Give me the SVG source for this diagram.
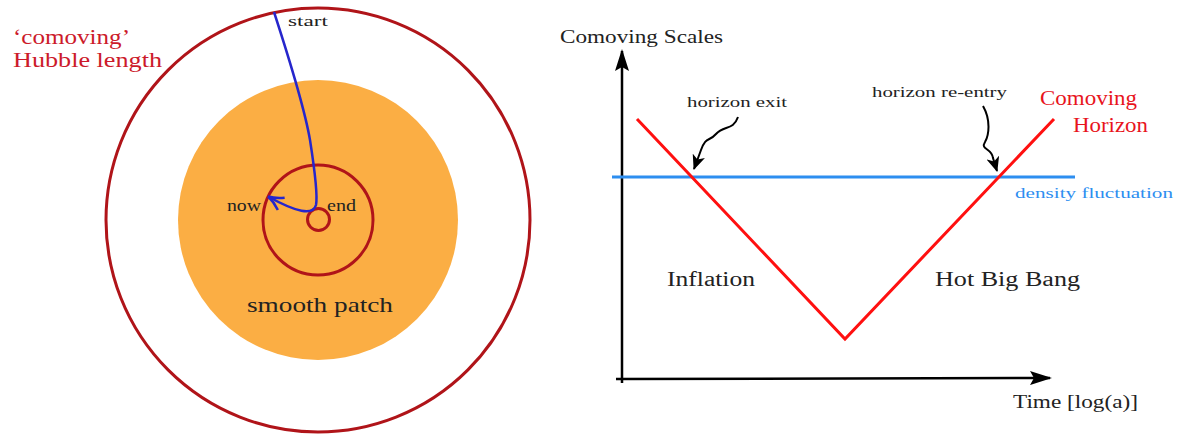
<svg xmlns="http://www.w3.org/2000/svg" width="1193" height="435" viewBox="0 0 1193 435">
<style>
text{font-family:"Liberation Serif","DejaVu Serif",serif;}
.ring{fill:none;stroke:#b01419;stroke-width:3;}
.lbl{fill:#222;}
.red{fill:#e8141c;}
.hub{fill:#cc1a2a;}
.blue{fill:#2d8ef0;}
.ax{stroke:#000;stroke-width:2.5;fill:none;}
.sq{stroke:#000;stroke-width:2;fill:none;}
</style>
<defs>
<marker id="ah" markerWidth="15" markerHeight="13" refX="14" refY="6.5" orient="auto" markerUnits="userSpaceOnUse">
<path d="M0,0 L15,6.5 L0,13 L4,6.5 Z" fill="#000"/>
</marker>
<marker id="axh" markerWidth="22" markerHeight="14" refX="20" refY="7" orient="auto" markerUnits="userSpaceOnUse">
<path d="M0,0 L22,7 L0,14 L4,7 Z" fill="#000"/>
</marker>
<marker id="bh" markerWidth="18" markerHeight="18" refX="15" refY="9" orient="auto" markerUnits="userSpaceOnUse">
<path d="M1,2 Q8,7 16,9 Q8,11 1,16" fill="none" stroke="#2626cc" stroke-width="2.5"/>
</marker>
</defs>
<rect width="1193" height="435" fill="#fff"/>

<g id="hubble-circle"><circle cx="318" cy="220" r="212" class="ring"/></g>
<g id="smooth-patch"><circle cx="318" cy="220" r="140" fill="#fbae44"/>
<text x="247" y="312" font-size="22" class="lbl" textLength="146" lengthAdjust="spacingAndGlyphs">smooth patch</text></g>
<g id="now-circle"><circle cx="318" cy="220" r="55" class="ring"/></g>
<g id="end-circle"><circle cx="318.5" cy="219.5" r="11" class="ring"/></g>
<g id="hubble-label">
<text x="13" y="44" font-size="20" class="hub" textLength="117" lengthAdjust="spacingAndGlyphs">‘comoving’</text>
<text x="13" y="67" font-size="20" class="hub" textLength="149" lengthAdjust="spacingAndGlyphs">Hubble length</text>
</g>
<g id="labels-left">
<text x="288" y="26" font-size="15" class="lbl" textLength="40" lengthAdjust="spacingAndGlyphs">start</text>
<text x="227" y="211" font-size="16" class="lbl" textLength="34" lengthAdjust="spacingAndGlyphs">now</text>
<text x="327" y="211" font-size="16" class="lbl" textLength="29" lengthAdjust="spacingAndGlyphs">end</text>
</g>
<g id="connectors">
<path d="M274,12 C288,55 304,105 310,140 C315,172 318,195 316,205 C313,216 296,212 269,197" fill="none" stroke="#2626cc" stroke-width="2.5" marker-end="url(#bh)"/>
<line x1="622" y1="383" x2="622" y2="51" class="ax" marker-end="url(#axh)"/>
<line x1="616" y1="379" x2="1050" y2="378" class="ax" marker-end="url(#axh)"/>
<line x1="612" y1="177" x2="1075" y2="177" stroke="#2d8ef0" stroke-width="3"/>
<polyline points="637,119 845,339 1054,119" fill="none" stroke="#ff1010" stroke-width="3"/>
<path d="M738,117 C733,131 724,125 716,134 C709,142 706,136 701,150 L694,169" class="sq" marker-end="url(#ah)"/>
<path d="M983,106 C991,120 989,135 985,142 C980,150 992,148 993,158 L997,171" class="sq" marker-end="url(#ah)"/>
</g>
<g id="chart-labels">
<text x="560" y="43" font-size="19" class="lbl" textLength="163" lengthAdjust="spacingAndGlyphs">Comoving Scales</text>
<text x="687" y="107" font-size="15" class="lbl" textLength="100" lengthAdjust="spacingAndGlyphs">horizon exit</text>
<text x="872" y="97" font-size="15" class="lbl" textLength="135" lengthAdjust="spacingAndGlyphs">horizon re-entry</text>
<text x="1040" y="105" font-size="20" class="red" textLength="97" lengthAdjust="spacingAndGlyphs">Comoving</text>
<text x="1073" y="132" font-size="20" class="red" textLength="75" lengthAdjust="spacingAndGlyphs">Horizon</text>
<text x="1015" y="198" font-size="15" class="blue" textLength="158" lengthAdjust="spacingAndGlyphs">density fluctuation</text>
<text x="667" y="286" font-size="20" class="lbl" textLength="88" lengthAdjust="spacingAndGlyphs">Inflation</text>
<text x="935" y="286" font-size="20" class="lbl" textLength="145" lengthAdjust="spacingAndGlyphs">Hot Big Bang</text>
<text x="1013" y="408" font-size="19" class="lbl" textLength="125" lengthAdjust="spacingAndGlyphs">Time [log(a)]</text>
</g>
</svg>
